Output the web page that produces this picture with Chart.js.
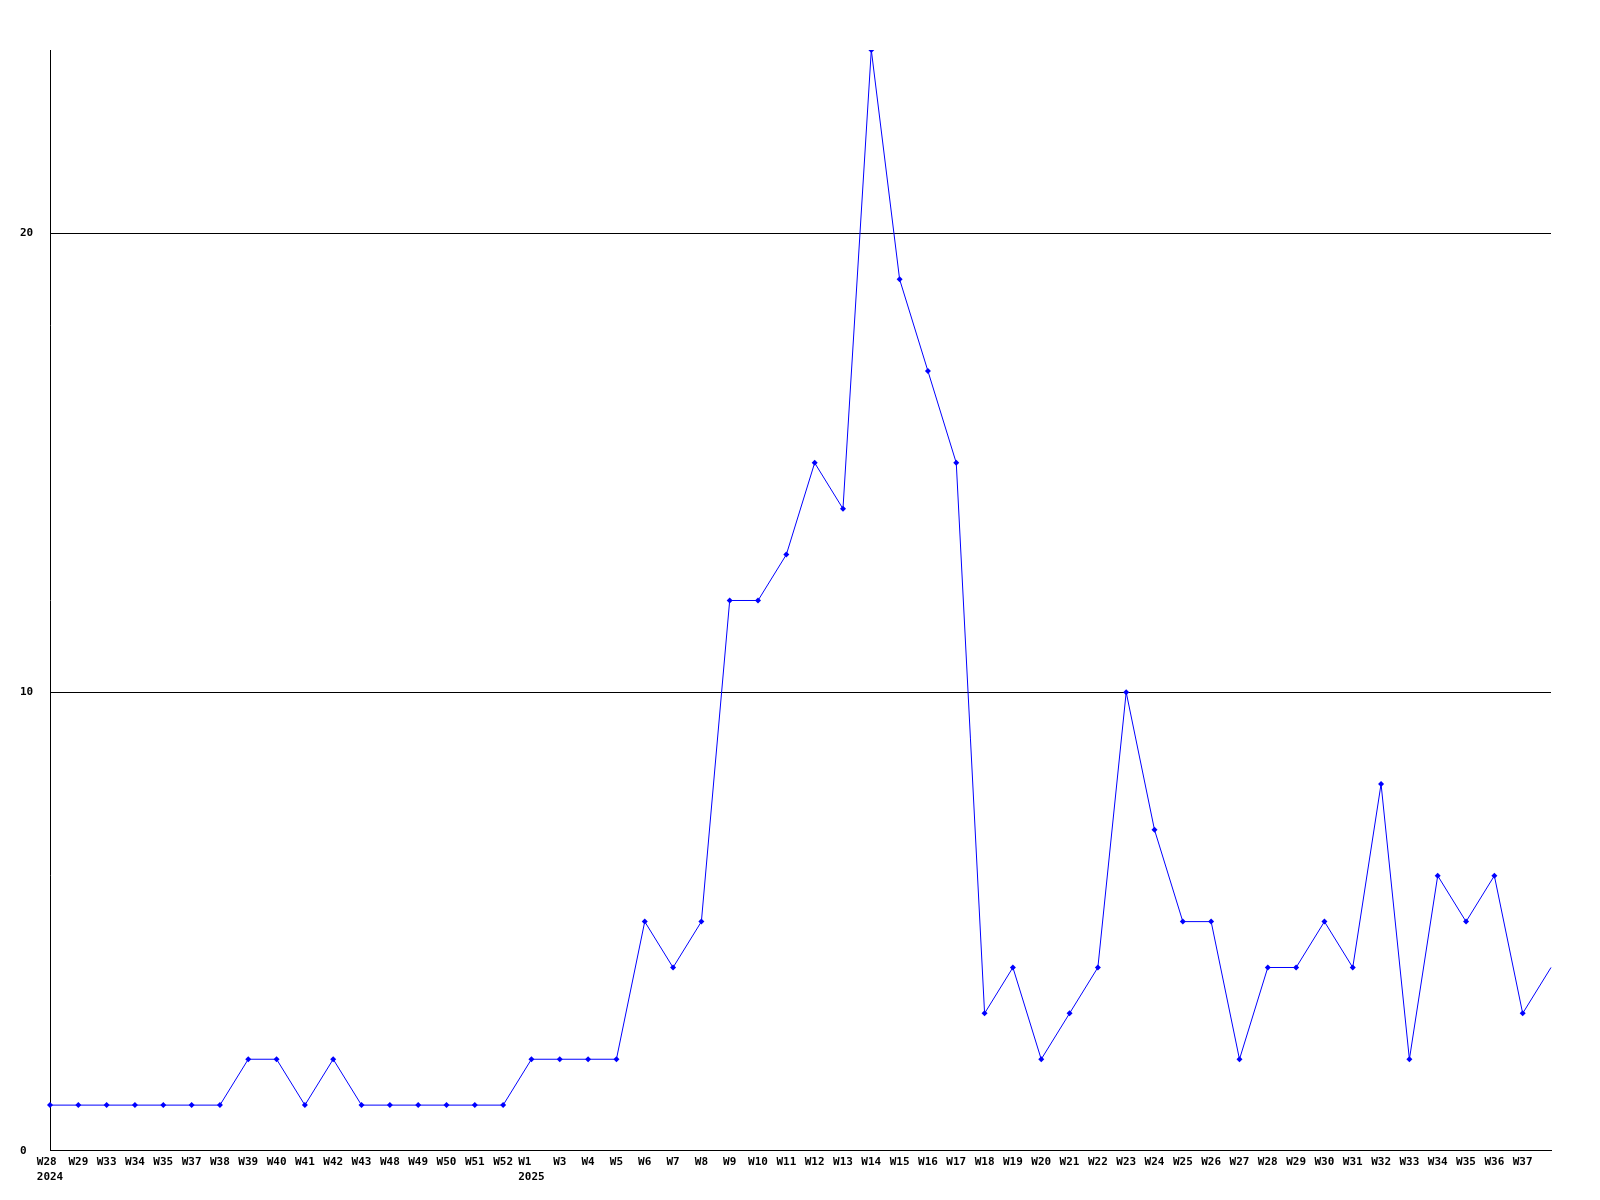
<!DOCTYPE html>
<html>
<head>
<meta charset="utf-8">
<script src="https://cdn.jsdelivr.net/npm/chart.js@4/dist/chart.umd.min.js"></script>
<style>
  html, body { margin: 0; padding: 0; background: #fff; }
  #wrap { width: 1600px; height: 1200px; }
</style>
</head>
<body>
<div id="wrap"><canvas id="chart" width="1600" height="1200"></canvas></div>
<script>
var weeks = ['W28', 'W29', 'W33', 'W34', 'W35', 'W37', 'W38', 'W39', 'W40', 'W41', 'W42', 'W43',
  'W48', 'W49', 'W50', 'W51', 'W52', 'W1', 'W3', 'W4', 'W5', 'W6', 'W7', 'W8', 'W9', 'W10',
  'W11', 'W12', 'W13', 'W14', 'W15', 'W16', 'W17', 'W18', 'W19', 'W20', 'W21', 'W22', 'W23',
  'W24', 'W25', 'W26', 'W27', 'W28', 'W29', 'W30', 'W31', 'W32', 'W33', 'W34', 'W35', 'W36',
  'W37', ''];
// year shown under the first week of each year
var yearMarks = { 0: '2024', 17: '2025' };
var counts = [1, 1, 1, 1, 1, 1, 1, 2, 2, 1, 2, 1,
  1, 1, 1, 1, 1, 2, 2, 2, 2, 5, 4, 5, 12, 12,
  13, 15, 14, 24, 19, 17, 15, 3, 4, 2, 3, 4, 10,
  7, 5, 5, 2, 4, 4, 5, 4, 8, 2, 6, 5, 6,
  3, 4];
var yTicks = [0, 10, 20];

var blue = '#0000ff';
var tickFont = { family: 'DejaVu Sans Mono', size: 11, weight: 'bold', lineHeight: 1.364 };

var labels = weeks.map(function(w, i) {
  if (yearMarks[i]) {
    var pad = w;
    while (pad.length < yearMarks[i].length) pad += ' ';
    return [pad, yearMarks[i]];
  }
  return w;
});

new Chart(document.getElementById('chart').getContext('2d'), {
  type: 'line',
  data: {
    labels: labels,
    datasets: [{
      data: counts,
      borderColor: blue,
      backgroundColor: blue,
      borderWidth: 1,
      tension: 0,
      pointStyle: 'rectRot',
      pointRadius: function(ctx) { return ctx.dataIndex === counts.length - 1 ? 0 : 3; },
      pointBorderWidth: 0,
      pointBackgroundColor: blue
    }]
  },
  options: {
    responsive: false,
    animation: false,
    layout: { padding: { left: 20, top: 50, right: 49, bottom: 11 } },
    plugins: { legend: { display: false }, tooltip: { enabled: false } },
    scales: {
      x: {
        offset: false,
        grid: { display: false, drawTicks: false },
        border: { display: true, color: '#000', width: 1 },
        ticks: { autoSkip: false, maxRotation: 0, minRotation: 0, padding: 4, color: '#000', font: tickFont }
      },
      y: {
        min: 0, max: 24,
        afterBuildTicks: function(axis) {
          axis.ticks = yTicks.map(function(v) { return { value: v }; });
        },
        afterFit: function(axis) { axis.width = 30; },
        grid: { color: '#000', lineWidth: 1, drawTicks: false },
        border: { display: true, color: '#000', width: 1 },
        ticks: { padding: 17, crossAlign: 'far', color: '#000', font: tickFont }
      }
    }
  }
});
</script>
</body>
</html>
